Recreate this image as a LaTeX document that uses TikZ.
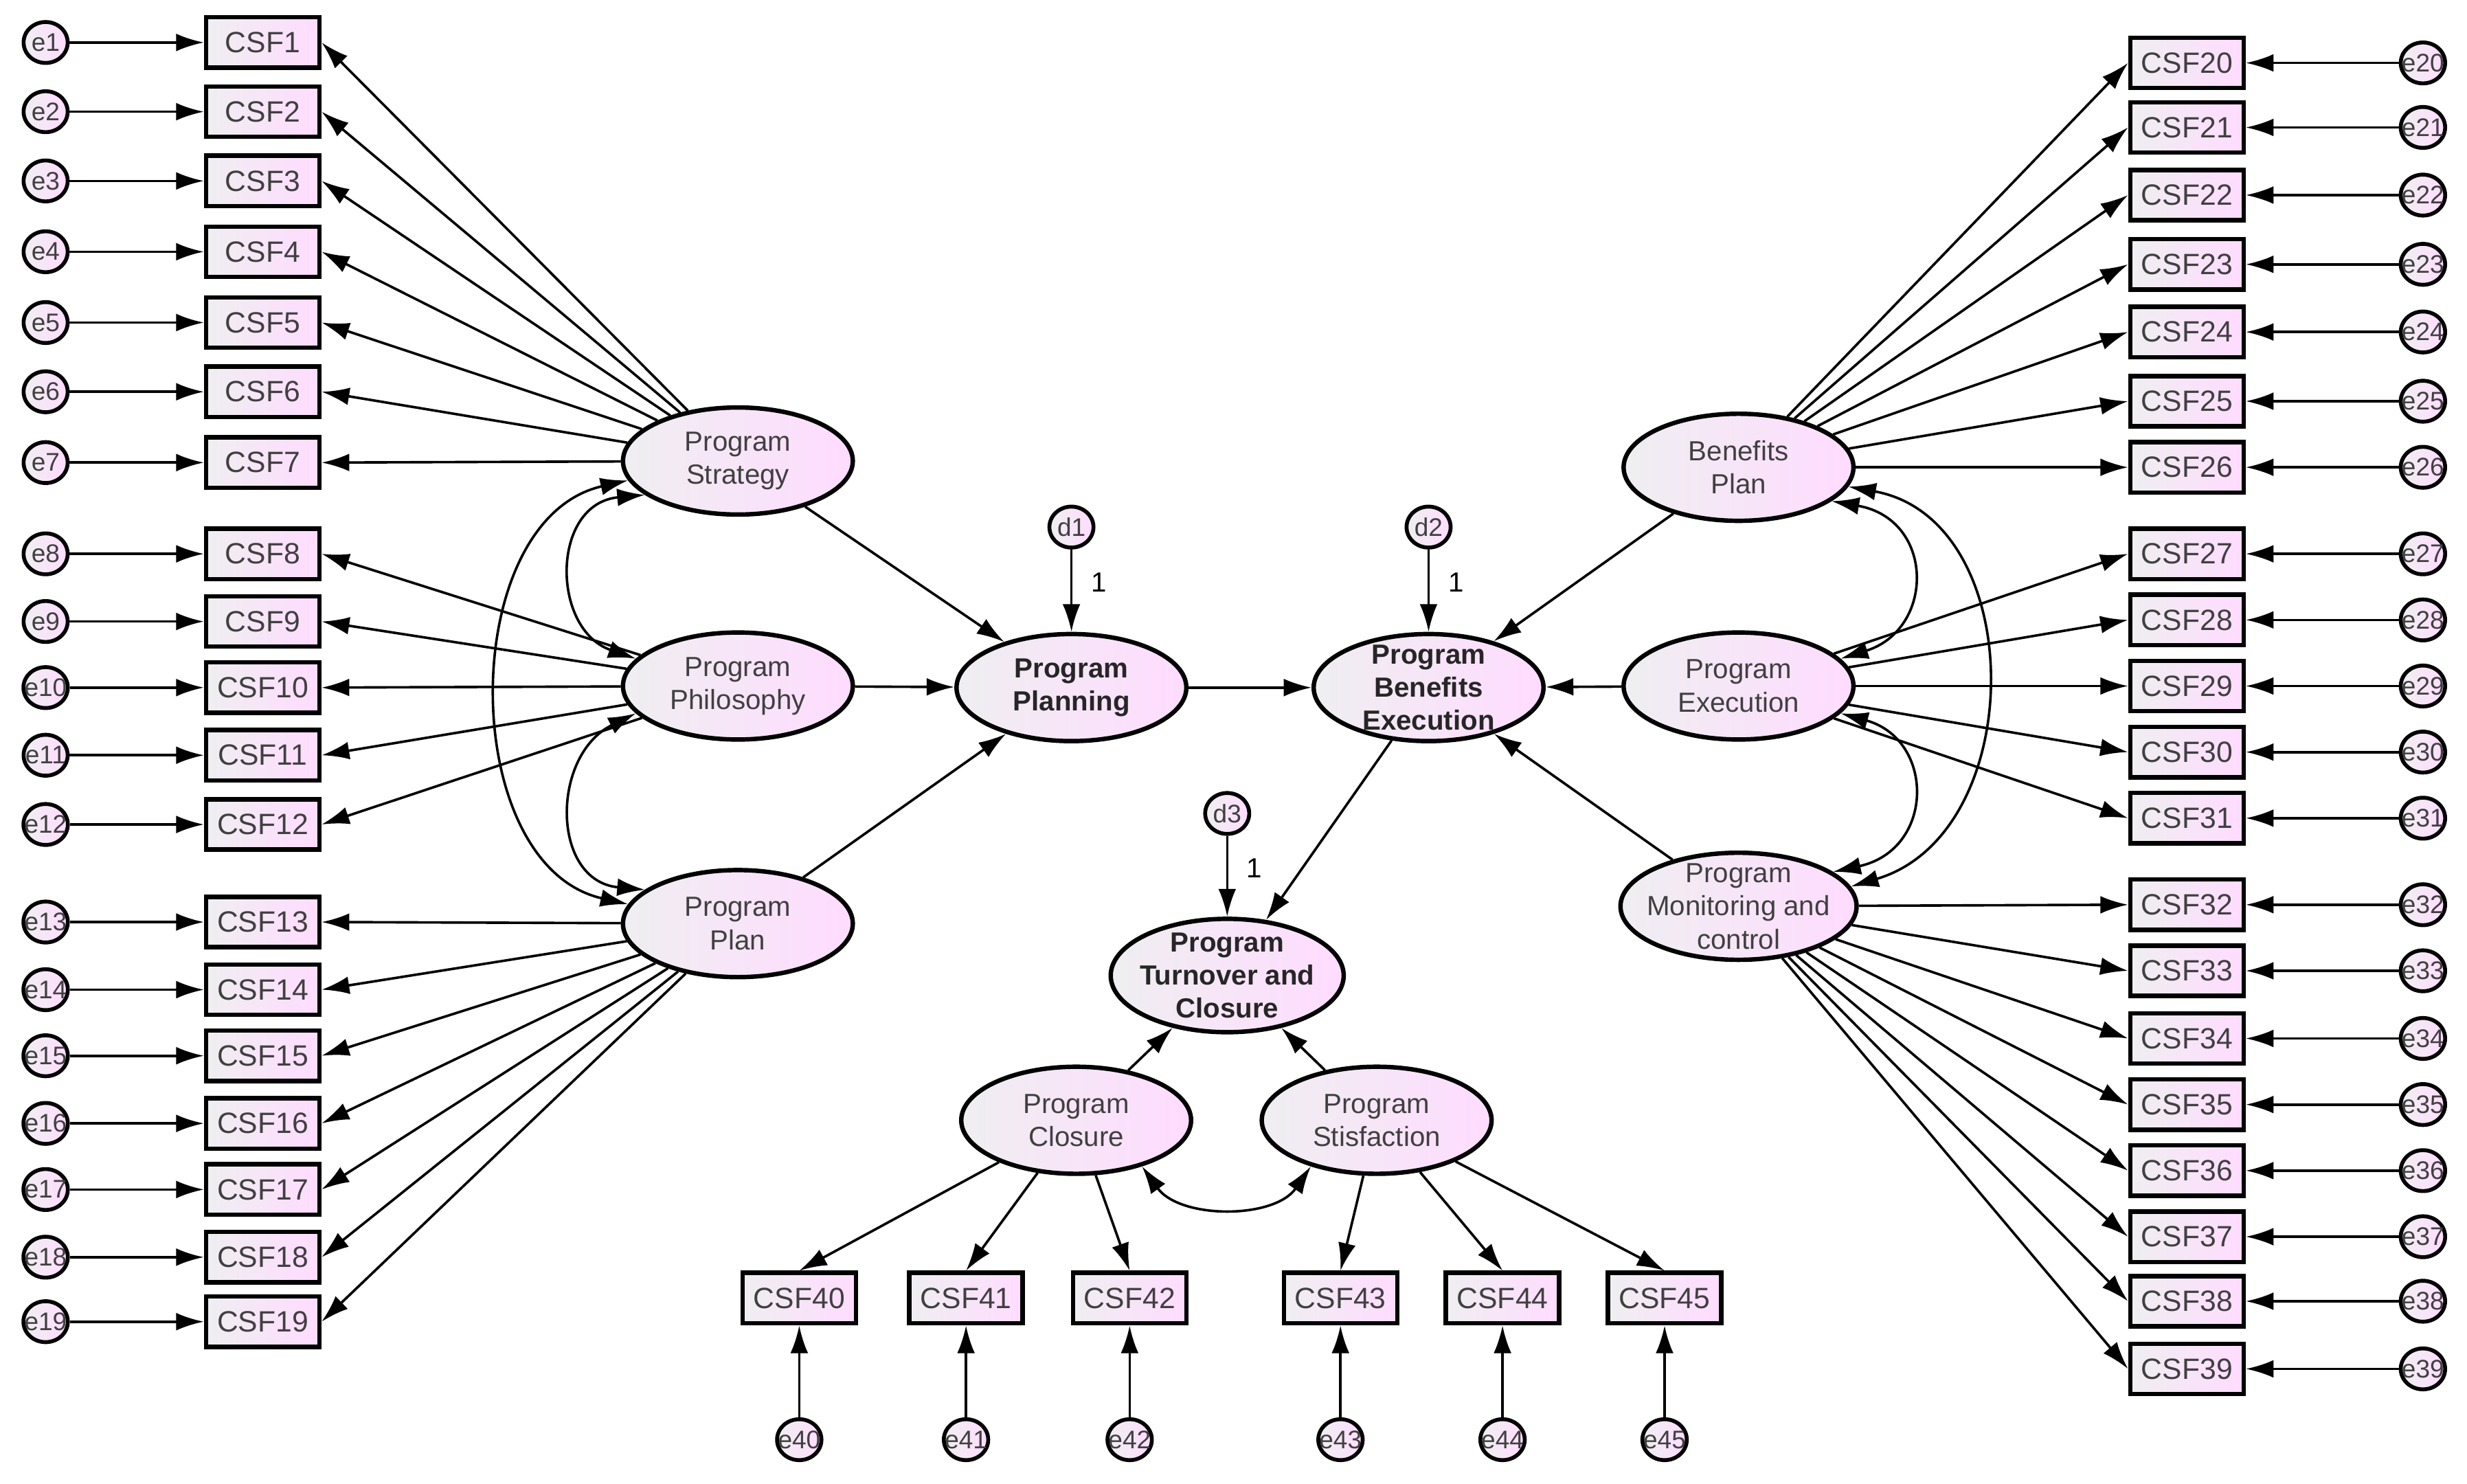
\documentclass[tikz,border=0pt]{standalone}
\usepackage{fontspec}
\setmainfont{Liberation Sans}
\usetikzlibrary{arrows.meta,shapes.geometric}
\begin{document}
\begin{tikzpicture}[x=0.01cm,y=-0.01cm,line width=0.45pt,
 >={Latex[length=5pt,width=3.2pt]},
 fillg/.style={left color=blue!6!gray!12,right color=magenta!14},
 box/.style={draw,line width=0.8pt,fillg,minimum width=0.72cm,minimum height=0.32cm,inner sep=0pt,font=\fontsize{5.3}{6}\selectfont,text=black!75},
 err/.style={draw,ellipse,line width=0.7pt,fillg,minimum width=0.28cm,minimum height=0.26cm,inner sep=-1pt,font=\fontsize{4.6}{5}\selectfont,text=black!75},
 lat/.style={draw,ellipse,line width=0.8pt,fillg,minimum width=1.46cm,minimum height=0.68cm,inner sep=-3pt,align=center,font=\fontsize{5}{6}\selectfont,text=black!75},
 blat/.style={lat,font=\bfseries\fontsize{5}{6}\selectfont,text=black!85}]
\useasboundingbox (0,0) rectangle (1568,943);
% latent
\node[lat] (PS) at (469,293) {Program\\Strategy};
\node[lat] (PP) at (469,436) {Program\\Philosophy};
\node[lat] (PL) at (469,587) {Program\\Plan};
\node[blat] (PG) at (681,437) {Program\\Planning};
\node[blat] (BE) at (908,437) {Program\\Benefits\\Execution};
\node[lat] (BP) at (1105,297) {Benefits\\Plan};
\node[lat] (EX) at (1105,436) {Program\\Execution};
\node[lat,minimum width=1.5cm] (MC) at (1105,576) {Program\\Monitoring and\\control};
\node[blat,minimum width=1.48cm,minimum height=0.72cm] (TC) at (780,620) {Program\\Turnover and\\Closure};
\node[lat] (CL) at (684,712) {Program\\Closure};
\node[lat] (ST) at (875,712) {Program\\Stisfaction};
\node[err] (d1) at (681,335) {d1};
\node[err] (d2) at (908,335) {d2};
\node[err] (d3) at (780,517) {d3};
\draw[->] (d1) -- node[right,pos=0.4,font=\fontsize{5}{5}\selectfont]{1} (PG);
\draw[->] (d2) -- node[right,pos=0.4,font=\fontsize{5}{5}\selectfont]{1} (BE);
\draw[->] (d3) -- node[right,pos=0.4,font=\fontsize{5}{5}\selectfont]{1} (TC);
% left indicators
\foreach \n/\y/\f in {1/27/PS,2/71/PS,3/115/PS,4/160/PS,5/205/PS,6/249/PS,7/294/PS,8/352/PP,9/395/PP,10/437/PP,11/480/PP,12/524/PP,13/586/PL,14/629/PL,15/671/PL,16/714/PL,17/756/PL,18/799/PL,19/840/PL}{
 \node[box] (c\n) at (167,\y) {CSF\n};
 \node[err] (e\n) at (29,\y) {e\n};
 \draw[->] (e\n) -- (c\n);
 \draw[->] (\f) -- (c\n.east);
}
% right indicators
\foreach \n/\y/\f in {20/40/BP,21/81/BP,22/124/BP,23/168/BP,24/211/BP,25/255/BP,26/297/BP,27/352/EX,28/394/EX,29/436/EX,30/478/EX,31/520/EX,32/575/MC,33/617/MC,34/660/MC,35/702/MC,36/744/MC,37/786/MC,38/827/MC,39/870/MC}{
 \node[box] (c\n) at (1390,\y) {CSF\n};
 \node[err] (e\n) at (1540,\y) {e\n};
 \draw[->] (e\n) -- (c\n);
 \draw[->] (\f) -- (c\n.west);
}
% bottom indicators
\foreach \n/\x/\f in {40/508/CL,41/614/CL,42/718/CL,43/852/ST,44/955/ST,45/1058/ST}{
 \node[box] (c\n) at (\x,825) {CSF\n};
 \node[err] (e\n) at (\x,915) {e\n};
 \draw[->] (e\n) -- (c\n);
 \draw[->] (\f) -- (c\n.north);
}
% structural
\draw[->] (PS) -- (PG);
\draw[->] (PP) -- (PG);
\draw[->] (PL) -- (PG);
\draw[->] (PG) -- (BE);
\draw[->] (BP) -- (BE);
\draw[->] (EX) -- (BE);
\draw[->] (MC) -- (BE);
\draw[->] (BE) -- (TC);
\draw[->] (CL) -- (TC);
\draw[->] (ST) -- (TC);
% covariances
\draw[<->] (PS.200) .. controls (350,320) and (350,400) .. (PP.165);
\draw[<->] (PP.195) .. controls (350,480) and (350,560) .. (PL.160);
\draw[<->] (PS.190) .. controls (290,330) and (290,550) .. (PL.170);
\draw[<->] (BP.340) .. controls (1230,330) and (1230,400) .. (EX.15);
\draw[<->] (EX.345) .. controls (1230,470) and (1230,540) .. (MC.20);
\draw[<->] (BP.350) .. controls (1290,330) and (1290,530) .. (MC.10);
\draw[<->] (CL.325) .. controls (750,775) and (810,775) .. (ST.215);
\end{tikzpicture}
\end{document}
